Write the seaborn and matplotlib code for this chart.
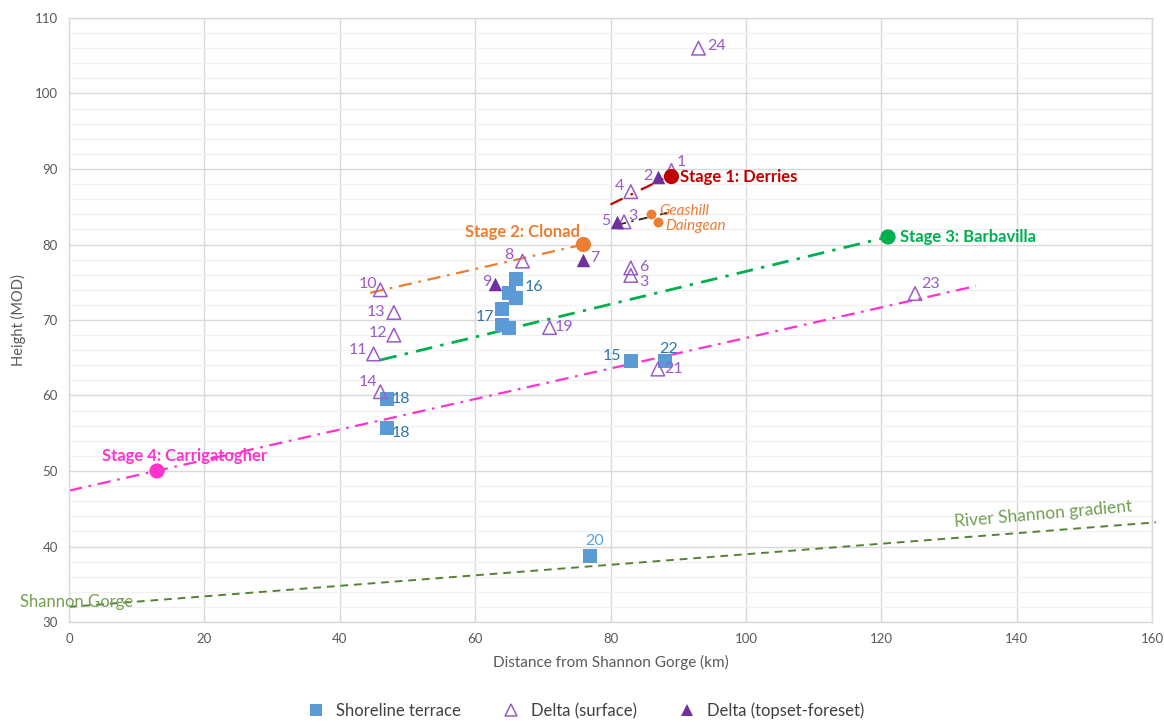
import matplotlib
matplotlib.use("Agg")
import matplotlib.pyplot as plt
import seaborn as sns
import pandas as pd
from matplotlib.lines import Line2D
from matplotlib.ticker import MultipleLocator

# ---- data -------------------------------------------------------------
terrace_x = [47.0, 47.0, 66.0, 65.0, 66.0, 64.0, 64.0, 65.0, 83.0, 88.0, 77.0]
terrace_y = [59.5, 55.7, 75.4, 73.6, 72.9, 71.5, 69.3, 68.9, 64.6, 64.6, 38.7]
terrace_lbl = ["18", "18", "16", "", "", "17", "", "", "15", "22", "20"]

surf_x = [93.0, 89.0, 83.0, 82.0, 67.0, 83.0, 83.0, 46.0, 48.0, 48.0, 45.0, 71.0, 46.0, 87.0, 125.0]
surf_y = [106.0, 89.8, 87.0, 83.0, 77.8, 76.9, 75.9, 74.0, 71.0, 68.0, 65.5, 69.0, 60.5, 63.5, 73.5]
surf_lbl = ["24", "1", "4", "3", "8", "6", "3", "10", "13", "12", "11", "19", "14", "21", "23"]

topset_x = [87.0, 81.0, 76.0, 63.0]
topset_y = [89.0, 83.0, 78.0, 74.8]
topset_lbl = ["2", "5", "7", "9"]

stage_names = ["Stage 1: Derries", "Stage 2: Clonad", "Stage 3: Barbavilla", "Stage 4: Carrigatogher"]
stage_x = [89.0, 76.0, 121.0, 13.0]
stage_y = [89.0, 80.0, 81.0, 50.0]

site_names = ["Geashill", "Daingean"]
site_x = [86.0, 87.0]
site_y = [84.0, 83.0]

# trend lines ([start x, end x], [start y, end y])
stage1_line = ([80.0, 88.5], [85.3, 89.0])
local_line = ([81.0, 88.4], [82.6, 84.2])
stage2_line = ([44.5, 76.0], [73.6, 80.0])
stage3_line = ([46.0, 121.0], [64.7, 81.0])
stage4_line = ([0.0, 134.0], [47.4, 74.5])
river_line = ([0.0, 160.6], [32.0, 43.2])

# ---- style ------------------------------------------------------------
sns.set_theme(style="white")
plt.rcParams["font.family"] = ["Lato", "DejaVu Sans"]

BLUE = "#5B9BD5"
BLUE_TXT = "#2E75B6"
PURPLE = "#7030A0"
PURPLE_OPEN = "#9A5BC8"
RED = "#C00000"
ORANGE = "#ED7D31"
GREEN = "#00B050"
MAGENTA = "#FF33CC"
OLIVE = "#548235"
OLIVE_TXT = "#70A050"

fig = plt.figure(figsize=(11.64, 7.22), dpi=100)
ax = fig.add_axes([69 / 1164, 1 - 622 / 722, (1152 - 69) / 1164, (622 - 18) / 722])

ax.set_xlim(0, 160)
ax.set_ylim(30, 110)
ax.xaxis.set_major_locator(MultipleLocator(20))
ax.yaxis.set_major_locator(MultipleLocator(10))
ax.yaxis.set_minor_locator(MultipleLocator(2))
ax.grid(which="major", color="#D9D9D9", linewidth=1.0)
ax.grid(which="minor", axis="y", color="#F0F0F0", linewidth=0.9)
ax.set_axisbelow(True)
for s in ax.spines.values():
    s.set_visible(True)
    s.set_color("#D9D9D9")
    s.set_linewidth(1.0)
ax.tick_params(axis="both", which="both", length=0, labelsize=9.5, colors="#595959", pad=8)

# ---- trend lines ------------------------------------------------------
dashdot = (0, (6, 3, 1.2, 3))
ax.plot(*river_line, color=OLIVE, linestyle=(0, (4, 3)), linewidth=1.4, clip_on=False, zorder=2)
ax.plot(*stage4_line, color=MAGENTA, linestyle=dashdot, linewidth=1.6, zorder=2)
ax.plot(*stage3_line, color=GREEN, linestyle=dashdot, linewidth=2.0, zorder=2)
ax.plot(*stage2_line, color=ORANGE, linestyle=dashdot, linewidth=1.6, zorder=2)
ax.plot(*stage1_line, color=RED, linestyle=(0, (6, 4, 1.2, 4)), linewidth=1.6, zorder=2)
ax.plot(*local_line, color="#262626", linestyle=(0, (5, 3, 1.2, 3)), linewidth=1.3, zorder=2)

# ---- point series -----------------------------------------------------
terrace = pd.DataFrame({"x": terrace_x, "y": terrace_y})
surface = pd.DataFrame({"x": surf_x, "y": surf_y})
topset = pd.DataFrame({"x": topset_x, "y": topset_y})
stages = pd.DataFrame({"x": stage_x, "y": stage_y})
sites = pd.DataFrame({"x": site_x, "y": site_y})

sns.scatterplot(data=terrace, x="x", y="y", marker="s", s=95, color=BLUE,
                edgecolor=BLUE, linewidth=0, ax=ax, zorder=3)
sns.scatterplot(data=surface, x="x", y="y", marker="^", s=95, facecolor="none",
                edgecolor=PURPLE_OPEN, linewidth=1.1, ax=ax, zorder=3)
sns.scatterplot(data=topset, x="x", y="y", marker="^", s=95, color=PURPLE,
                edgecolor=PURPLE, linewidth=0, ax=ax, zorder=3)
sns.scatterplot(data=stages, x="x", y="y", marker="o", s=120,
                hue=stage_names, palette=[RED, ORANGE, GREEN, MAGENTA],
                linewidth=0, ax=ax, zorder=4, legend=False)
sns.scatterplot(data=sites, x="x", y="y", marker="o", s=50, color=ORANGE,
                linewidth=0, ax=ax, zorder=4)
ax.set_xlabel("Distance from Shannon Gorge (km)", fontsize=11, color="#595959", labelpad=7)
ax.set_ylabel("Height (MOD)", fontsize=10.5, color="#595959", labelpad=6)

# ---- point labels -----------------------------------------------------
terrace_off = [(14, 0), (14, -5), (18, -8), (0, 0), (0, 0), (-17, -8), (0, 0), (0, 0),
               (-19, 5), (4, 12), (4, 15)]
surf_off = [(18, 2), (10, 9), (-11, 6), (9, 6), (-14, 6), (13, 1), (13, -7), (-12, 6),
            (-18, 0), (-16, 2), (-16, 4), (14, 1), (-12, 10), (16, 0), (15, 10)]
topset_off = [(-10, 1), (-12, 1), (11, 2), (-9, 2)]

for x, y, t, o in zip(terrace_x, terrace_y, terrace_lbl, terrace_off):
    if t:
        c = "#5BA3E0" if t == "20" else BLUE_TXT
        ax.annotate(t, (x, y), xytext=o, textcoords="offset pixels", fontsize=11.5,
                    color=c, ha="center", va="center", zorder=5)
for x, y, t, o in zip(surf_x, surf_y, surf_lbl, surf_off):
    ax.annotate(t, (x, y), xytext=o, textcoords="offset pixels", fontsize=11.5,
                color=PURPLE_OPEN, ha="center", va="center", zorder=5)
for x, y, t, o in zip(topset_x, topset_y, topset_lbl, topset_off):
    ax.annotate(t, (x, y), xytext=o, textcoords="offset pixels", fontsize=11.5,
                color=PURPLE_OPEN, ha="center", va="center", zorder=5)

stage_colors = [RED, ORANGE, GREEN, MAGENTA]
stage_off = [(9, 0), (-3, 12), (12, 0), (28, 15)]
stage_ha = ["left", "right", "left", "center"]
for x, y, t, c, o, h in zip(stage_x, stage_y, stage_names, stage_colors, stage_off, stage_ha):
    ax.annotate(t, (x, y), xytext=o, textcoords="offset pixels", fontsize=12,
                fontweight="bold", color=c, ha=h, va="center", zorder=5)

site_off = [(8, 3), (7, -4)]
for x, y, t, o in zip(site_x, site_y, site_names, site_off):
    ax.annotate(t, (x, y), xytext=o, textcoords="offset pixels", fontsize=11,
                style="italic", color=ORANGE, ha="left", va="center", zorder=5)

ax.text(-7.3, 32.7, "Shannon Gorge", fontsize=12, color=OLIVE_TXT, ha="left", va="center")
ax.text(143.9, 44.3, "River Shannon gradient", fontsize=12.5, color=OLIVE_TXT,
        ha="center", va="center", rotation=5)

# ---- legend -----------------------------------------------------------
handles = [
    Line2D([], [], marker="s", linestyle="none", markersize=9, color=BLUE, markeredgewidth=0),
    Line2D([], [], marker="^", linestyle="none", markersize=9, markerfacecolor="none",
           markeredgecolor=PURPLE_OPEN, markeredgewidth=1.1),
    Line2D([], [], marker="^", linestyle="none", markersize=9, color=PURPLE, markeredgewidth=0),
]
fig.legend(handles, ["Shoreline terrace", "Delta (surface)", "Delta (topset-foreset)"],
           loc="center", bbox_to_anchor=(0.5, 1 - 711 / 722), ncol=3, frameon=False,
           fontsize=12, handletextpad=0.2, columnspacing=2.0, labelcolor="#404040")

fig.savefig("out.png", dpi=100)
